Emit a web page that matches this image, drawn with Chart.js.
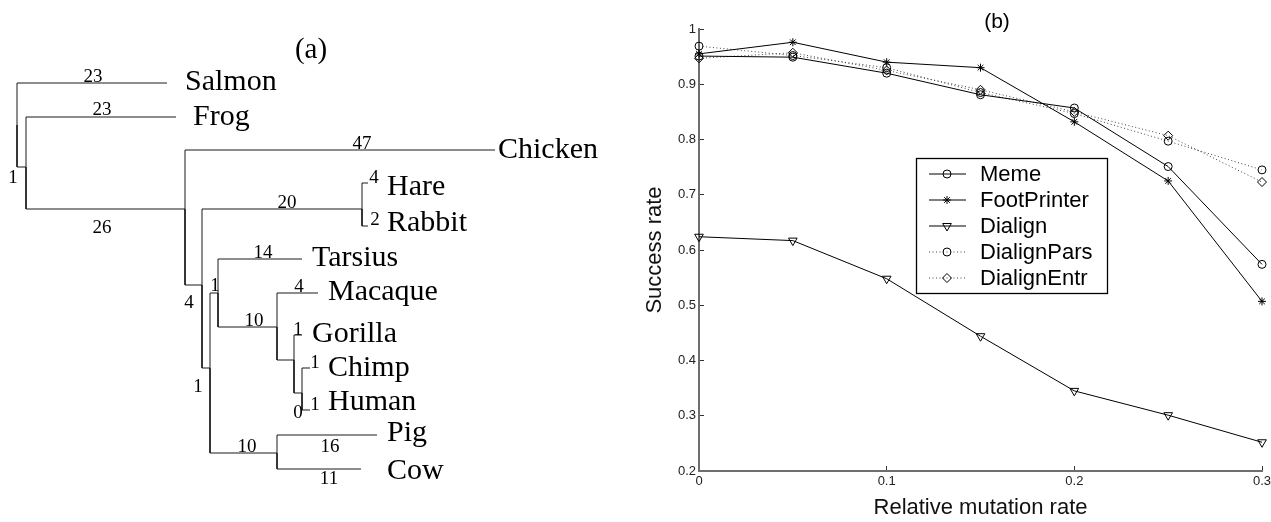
<!DOCTYPE html>
<html>
<head>
<meta charset="utf-8">
<script src="https://cdn.jsdelivr.net/npm/chart.js@4.4.1/dist/chart.umd.min.js"></script>
<style>
  html, body { margin: 0; padding: 0; background: #fff; }
  #wrap { position: relative; width: 1271px; height: 522px; }
  #treeBox { position: absolute; left: 0; top: 0; width: 630px; height: 522px; }
  #rateBox { position: absolute; left: 630px; top: 0; width: 641px; height: 522px; }
</style>
</head>
<body>
<div id="wrap">
  <div id="treeBox"><canvas id="treeChart" width="630" height="522"></canvas></div>
  <div id="rateBox"><canvas id="rateChart" width="641" height="522"></canvas></div>
</div>
<script>
// ---- panel (b): success rate vs relative mutation rate ----
const mutationRates = [0, 0.05, 0.1, 0.15, 0.2, 0.25, 0.3];
const memeRates = [0.951, 0.949, 0.920, 0.881, 0.857, 0.751, 0.574];
const footPrinterRates = [0.955, 0.976, 0.940, 0.930, 0.832, 0.725, 0.507];
const dialignRates = [0.624, 0.617, 0.548, 0.444, 0.345, 0.301, 0.252];
const dialignParsRates = [0.969, 0.952, 0.930, 0.885, 0.847, 0.797, 0.745];
const dialignEntrRates = [0.947, 0.957, 0.925, 0.890, 0.850, 0.807, 0.723];
const xTickValues = [0, 0.1, 0.2, 0.3];
const xTickLabels = ['0', '0.1', '0.2', '0.3'];
const yTickValues = [0.2, 0.3, 0.4, 0.5, 0.6, 0.7, 0.8, 0.9, 1];
const yTickLabels = ['0.2', '0.3', '0.4', '0.5', '0.6', '0.7', '0.8', '0.9', '1'];

// ---- panel (a): tree, node positions in tree units (x = depth, y = row) ----
const treeNodes   = ['root', 'A', 'Salmon', 'Frog', 'B', 'Chicken', 'C', 'HR', 'Hare', 'Rabbit', 'D', 'E', 'Tarsius', 'F', 'Macaque', 'G', 'Gorilla', 'H', 'Chimp', 'Human', 'PC', 'Pig', 'Cow'];
const treeParents = [null, 'root', 'root', 'A', 'A', 'B', 'B', 'C', 'HR', 'HR', 'C', 'D', 'E', 'E', 'F', 'F', 'G', 'G', 'H', 'H', 'D', 'PC', 'PC'];
const treeX       = [17, 26, 167, 176, 185, 495, 202, 362, 368, 368, 210, 218, 302, 277, 318, 294, 302, 302, 310, 310, 277, 377, 361];
const treeY       = [125, 167, 83, 117, 209, 150, 285, 209, 183, 226, 368, 293, 259, 327, 293, 360, 335, 393, 368, 410, 453, 435, 469];
const branchLengths = ['', '1', '23', '23', '26', '47', '4', '20', '4', '2', '1', '1', '14', '10', '4', '', '1', '0', '1', '1', '10', '16', '11'];
const leafNames = ['Salmon', 'Frog', 'Chicken', 'Hare', 'Rabbit', 'Tarsius', 'Macaque', 'Gorilla', 'Chimp', 'Human', 'Pig', 'Cow'];

// layout of the tree texts (tree units)
const branchLabelX = [null, 13, 93, 102, 102, 362, 189, 287, 374, 375, 198, 215, 263, 254, 299, null, 298, 298, 315, 315, 247, 330, 329];
const branchLabelY = [null, 178, 77, 110, 228, 144, 303, 203, 178, 220, 387, 286, 253, 321, 287, null, 330, 413, 363, 405, 447, 447, 479];
const leafLabelX = [185, 193, 498, 387, 387, 312, 328, 312, 328, 328, 387, 387];
const leafLabelY = [82, 117, 150, 187, 223, 258, 292, 334, 368, 402, 433, 471];

const SERIF = "'Liberation Serif', 'Times New Roman', serif";
const SANS = "'Liberation Sans', Arial, Helvetica, sans-serif";

// build the tree branches: vertical part on the parent, then horizontal to the child
const treeDatasets = [];
treeNodes.forEach(function (name, i) {
    const p = treeParents[i];
    if (p === null) return;
    const j = treeNodes.indexOf(p);
    treeDatasets.push({
        data: [
            { x: treeX[j], y: treeY[j] },
            { x: treeX[j], y: treeY[i] },
            { x: treeX[i], y: treeY[i] }
        ],
        showLine: true,
        borderColor: '#1a1a1a',
        borderWidth: 1,
        pointRadius: 0,
        tension: 0,
        clip: false
    });
});

const treeTextPlugin = {
    id: 'treeText',
    afterDatasetsDraw(chart) {
        const ctx = chart.ctx;
        const sx = chart.scales.x, sy = chart.scales.y;
        ctx.save();
        ctx.fillStyle = '#000';
        ctx.textBaseline = 'middle';
        ctx.textAlign = 'center';
        ctx.font = '19px ' + SERIF;
        branchLengths.forEach(function (len, i) {
            if (!len) return;
            ctx.fillText(len, sx.getPixelForValue(branchLabelX[i]), sy.getPixelForValue(branchLabelY[i]));
        });
        ctx.textAlign = 'left';
        ctx.font = '30px ' + SERIF;
        leafNames.forEach(function (name, i) {
            ctx.fillText(name, sx.getPixelForValue(leafLabelX[i]), sy.getPixelForValue(leafLabelY[i]));
        });
        ctx.textAlign = 'center';
        ctx.font = '29px ' + SERIF;
        ctx.fillText('(a)', sx.getPixelForValue(311), sy.getPixelForValue(50));
        ctx.restore();
    }
};

new Chart(document.getElementById('treeChart'), {
    type: 'scatter',
    data: { datasets: treeDatasets },
    options: {
        responsive: false,
        animation: false,
        devicePixelRatio: 1,
        layout: { padding: 0 },
        plugins: { legend: { display: false }, tooltip: { enabled: false } },
        scales: {
            x: { type: 'linear', min: 0, max: 630, display: false },
            y: { type: 'linear', min: 0, max: 522, reverse: true, display: false }
        }
    },
    plugins: [treeTextPlugin]
});

// ---- panel (b) chart ----
function series(values) {
    return mutationRates.map(function (x, i) { return { x: x, y: values[i] }; });
}

const seriesStyle = {
    showLine: true,
    tension: 0,
    borderColor: '#000',
    borderWidth: 1,
    pointBorderColor: '#000',
    pointBackgroundColor: 'rgba(0,0,0,0)',
    pointBorderWidth: 1,
    clip: false
};

const rateDatasets = [
    Object.assign({ label: 'Meme', data: series(memeRates), pointStyle: 'circle', pointRadius: 4 }, seriesStyle),
    Object.assign({ label: 'FootPrinter', data: series(footPrinterRates), pointStyle: 'star', pointRadius: 4 }, seriesStyle),
    Object.assign({ label: 'Dialign', data: series(dialignRates), pointStyle: 'triangle', pointRotation: 180, pointRadius: 5 }, seriesStyle),
    Object.assign({ label: 'DialignPars', data: series(dialignParsRates), pointStyle: 'circle', pointRadius: 4, borderDash: [1, 2.5] }, seriesStyle),
    Object.assign({ label: 'DialignEntr', data: series(dialignEntrRates), pointStyle: 'rectRot', pointRadius: 4.5, borderDash: [1, 2.5] }, seriesStyle)
];
rateDatasets[3].borderColor = '#444';
rateDatasets[4].borderColor = '#444';

function drawMarker(ctx, ds, x, y) {
    if (Chart.helpers && Chart.helpers.drawPoint) {
        Chart.helpers.drawPoint(ctx, { pointStyle: ds.pointStyle, rotation: ds.pointRotation || 0, radius: ds.pointRadius, borderWidth: 1 }, x, y);
        return;
    }
    ctx.beginPath();
    ctx.arc(x, y, ds.pointRadius, 0, Math.PI * 2);
    ctx.stroke();
}

// boxed legend inside the plot, line sample + marker + name
const legendBoxPlugin = {
    id: 'legendBox',
    afterDraw(chart) {
        const ctx = chart.ctx;
        const left = 286, top = 158, width = 191, height = 135;
        ctx.save();
        ctx.fillStyle = '#fff';
        ctx.fillRect(left, top, width, height);
        ctx.strokeStyle = '#000';
        ctx.lineWidth = 1.3;
        ctx.strokeRect(left + 0.5, top + 0.5, width, height);
        ctx.font = '22px ' + SANS;
        ctx.textBaseline = 'middle';
        ctx.textAlign = 'left';
        chart.data.datasets.forEach(function (ds, i) {
            const y = top + 16 + i * 26;
            ctx.strokeStyle = ds.borderColor;
            ctx.lineWidth = 1;
            ctx.setLineDash(ds.borderDash || []);
            ctx.beginPath();
            ctx.moveTo(left + 13, y);
            ctx.lineTo(left + 50, y);
            ctx.stroke();
            ctx.setLineDash([]);
            ctx.strokeStyle = '#000';
            ctx.fillStyle = 'rgba(0,0,0,0)';
            drawMarker(ctx, ds, left + 31, y);
            ctx.fillStyle = '#000';
            ctx.fillText(ds.label, left + 64, y + 1);
        });
        ctx.font = '21px ' + SANS;
        ctx.textAlign = 'center';
        ctx.fillText('(b)', 367, 22);
        ctx.restore();
    }
};

new Chart(document.getElementById('rateChart'), {
    type: 'scatter',
    data: { datasets: rateDatasets },
    options: {
        responsive: false,
        animation: false,
        devicePixelRatio: 1,
        layout: { padding: { left: 0, right: 9, top: 29, bottom: 0 } },
        plugins: { legend: { display: false }, tooltip: { enabled: false } },
        scales: {
            x: {
                type: 'linear',
                min: 0,
                max: 0.3,
                afterBuildTicks: function (scale) {
                    scale.ticks = xTickValues.map(function (v) { return { value: v }; });
                },
                afterFit: function (scale) {
                    scale.height = 51;
                    scale.paddingLeft = 0;
                    scale.paddingRight = 0;
                },
                ticks: {
                    callback: function (value, index) { return xTickLabels[index]; },
                    font: { family: SANS, size: 13 },
                    color: '#222',
                    padding: 8,
                    maxRotation: 0,
                    autoSkip: false
                },
                grid: { drawOnChartArea: false, drawTicks: true, tickLength: -5, color: '#333' },
                border: { display: true, color: '#6e6e6e', width: 2 },
                title: {
                    display: true,
                    text: 'Relative mutation rate',
                    font: { family: SANS, size: 22 },
                    color: '#111',
                    padding: { top: 0, bottom: 1 }
                }
            },
            y: {
                type: 'linear',
                min: 0.2,
                max: 1,
                afterBuildTicks: function (scale) {
                    scale.ticks = yTickValues.map(function (v) { return { value: v }; });
                },
                afterFit: function (scale) {
                    scale.width = 69;
                    scale.paddingTop = 0;
                    scale.paddingBottom = 0;
                },
                ticks: {
                    callback: function (value, index) { return yTickLabels[index]; },
                    font: { family: SANS, size: 13 },
                    color: '#222',
                    padding: 8,
                    autoSkip: false
                },
                grid: { drawOnChartArea: false, drawTicks: true, tickLength: -5, color: '#333' },
                border: { display: true, color: '#6e6e6e', width: 2 },
                title: {
                    display: true,
                    text: 'Success rate',
                    font: { family: SANS, size: 22 },
                    color: '#111',
                    padding: { top: 12, bottom: 0 }
                }
            }
        }
    },
    plugins: [legendBoxPlugin]
});
</script>
</body>
</html>
